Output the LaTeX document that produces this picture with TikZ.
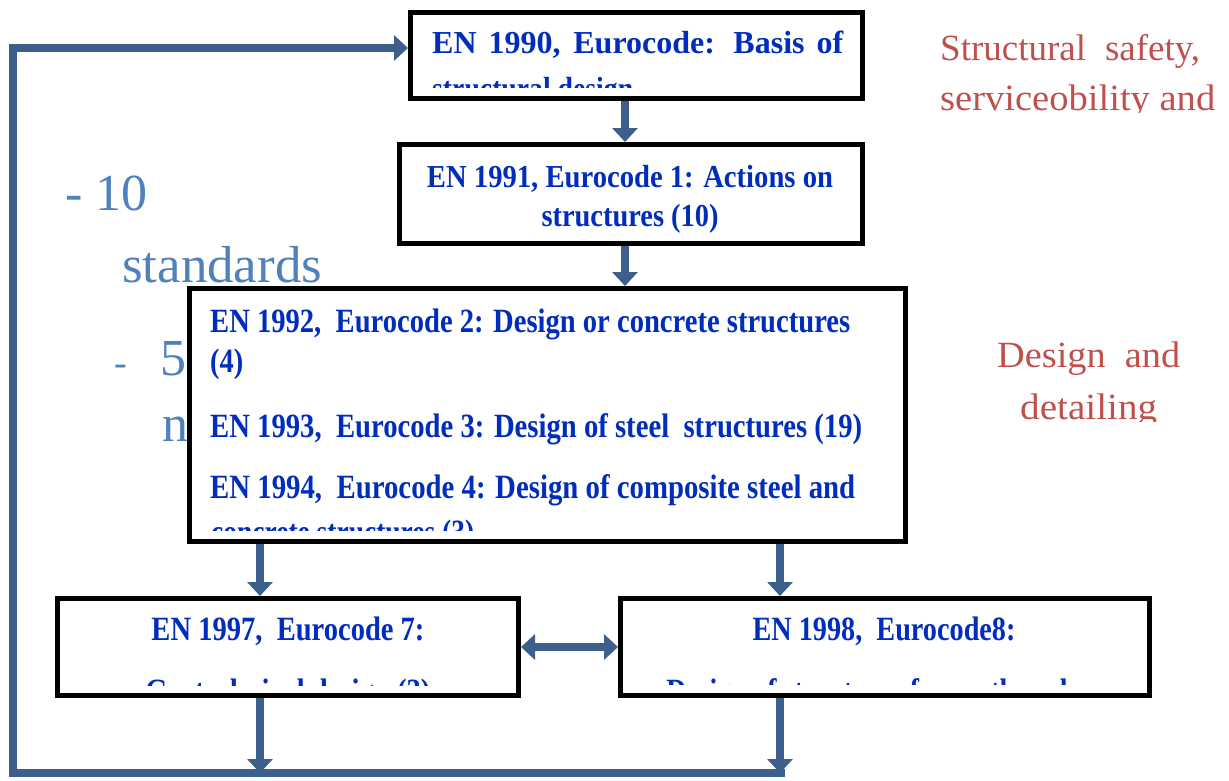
\documentclass[tikz,border=0pt]{standalone}
\usepackage{fontspec}
\setmainfont{Liberation Serif}
\usepackage{graphicx}
\usetikzlibrary{arrows.meta}
\definecolor{boxblue}{RGB}{0,45,190}
\definecolor{lblue}{RGB}{79,129,189}
\definecolor{lred}{RGB}{192,80,77}
\definecolor{arrc}{RGB}{61,95,139}
\newcommand{\fitw}[2]{\resizebox{#1pt}{\height}{#2}}
\begin{document}
\begin{tikzpicture}[x=1pt,y=-1pt,
 box/.style={draw=black, line width=5pt, fill=white, inner sep=0pt},
 btxt/.style={text=boxblue, font=\bfseries\fontsize{32}{32}\selectfont, inner sep=0pt},
 bctxt/.style={text=boxblue, font=\bfseries\fontsize{34}{34}\selectfont, inner sep=0pt},
 rtxt/.style={text=lred, font=\fontsize{37}{37}\selectfont, inner sep=0pt, anchor=base west},
 ltxt/.style={text=lblue, font=\fontsize{52}{52}\selectfont, inner sep=0pt, anchor=base west},
 conn/.style={draw=arrc, line width=8pt},
 arr/.style={conn, -{Triangle[width=25pt,length=14pt]}},
 darr/.style={conn, {Triangle[width=25pt,length=14pt]}-{Triangle[width=25pt,length=14pt]}},
]
\useasboundingbox (0,0) rectangle (1229,780);

% light blue text (partly hidden behind box C)
\node[ltxt] (l1) at (65,210) {- 10};
\node[ltxt] (l2) at (122,282) {\fitw{200}{standards}};
\node[ltxt, font=\fontsize{38}{38}\selectfont] (l3) at (114,375) {-};
\node[ltxt] (l4) at (160,375) {5};
\node[ltxt] (l5) at (162,441) {n};

% boxes
\node[box, minimum width=452pt, minimum height=86pt] (A) at (636.5,55.5) {};
\node[box, minimum width=463pt, minimum height=99pt] (B) at (631,194) {};
\node[box, minimum width=716pt, minimum height=253pt] (C) at (547.5,415) {};
\node[box, minimum width=461pt, minimum height=97pt] (D) at (288,647) {};
\node[box, minimum width=529pt, minimum height=97pt] (E) at (885,647) {};

% box A text
\begin{scope}
\clip (412,14) rectangle (861,87);
\node[btxt, anchor=base west] (a1) at (432,53) {\makebox[411pt][s]{EN 1990, Eurocode: Basis of}};
\node[btxt, anchor=base west] (a2) at (432,99) {\fitw{201}{structural design}};
\end{scope}

% box B text
\node[btxt, anchor=base] (b1) at (630,187) {\fitw{406}{EN 1991, Eurocode 1: Actions on}};
\node[btxt, anchor=base] (b2) at (630,226) {\fitw{177}{structures (10)}};

% box C text
\begin{scope}
\clip (192,291) rectangle (903,530);
\node[bctxt, anchor=base west] (c1) at (210,332) {\fitw{640}{EN 1992,\enspace Eurocode 2: Design or concrete structures}};
\node[bctxt, anchor=base west] (c2) at (210,372) {\fitw{33}{(4)}};
\node[bctxt, anchor=base west] (c3) at (210,437) {\fitw{652}{EN 1993,\enspace Eurocode 3: Design of steel\enspace structures (19)}};
\node[bctxt, anchor=base west] (c4) at (210,498) {\fitw{645}{EN 1994,\enspace Eurocode 4: Design of composite steel and}};
\node[bctxt, anchor=base west] (c5) at (211,543) {\fitw{263}{concrete structures (3)}};
\end{scope}

% box D text
\begin{scope}
\clip (59,601) rectangle (516,685);
\node[bctxt, anchor=base] (d1) at (288,640) {\fitw{273}{EN 1997,\enspace Eurocode 7:}};
\node[bctxt, anchor=base] (d2) at (288,702) {\fitw{285}{Geotechnical design (3)}};
\end{scope}

% box E text
\begin{scope}
\clip (622,601) rectangle (1148,684);
\node[bctxt, anchor=base] (e1) at (884,640) {\fitw{263}{EN 1998,\enspace Eurocode8:}};
\node[bctxt, anchor=base] (e2) at (877,702) {\fitw{421}{Design of structures for earthquake}};
\end{scope}

% red text
\begin{scope}
\clip (925,0) rectangle (1229,112);
\node[rtxt] (r1) at (940,60) {\makebox[260pt][s]{Structural\ \ safety,}};
\node[rtxt] (r2) at (940,110) {\fitw{275}{serviceobility and}};
\end{scope}
\begin{scope}
\clip (980,330) rectangle (1229,421);
\node[rtxt] (r3) at (997,367) {\fitw{183}{Design\ \ and}};
\node[rtxt] (r4) at (1020,419) {\fitw{137}{detailing}};
\end{scope}

% connectors
\coordinate (xm) at (625,0);
\coordinate (xl) at (260,0);
\coordinate (xr) at (780,0);
\coordinate (bR) at (785,773);
\coordinate (bL) at (13,773);
\coordinate (tL) at (13,48);
\draw[arr] (A.south -| xm) -- (B.north -| xm);
\draw[arr] (B.south -| xm) -- (C.north -| xm);
\draw[arr] (C.south -| xl) -- (D.north -| xl);
\draw[arr] (C.south -| xr) -- (E.north -| xr);
\draw[darr] (D.east) -- (E.west);
\draw[arr] (D.south -| xl) -- (bL -| xl);
\draw[arr] (E.south -| xr) -- (bL -| xr);
\draw[arr] (bR) -- (bL) -- (tL) -- (tL -| A.west);
\end{tikzpicture}
\end{document}
